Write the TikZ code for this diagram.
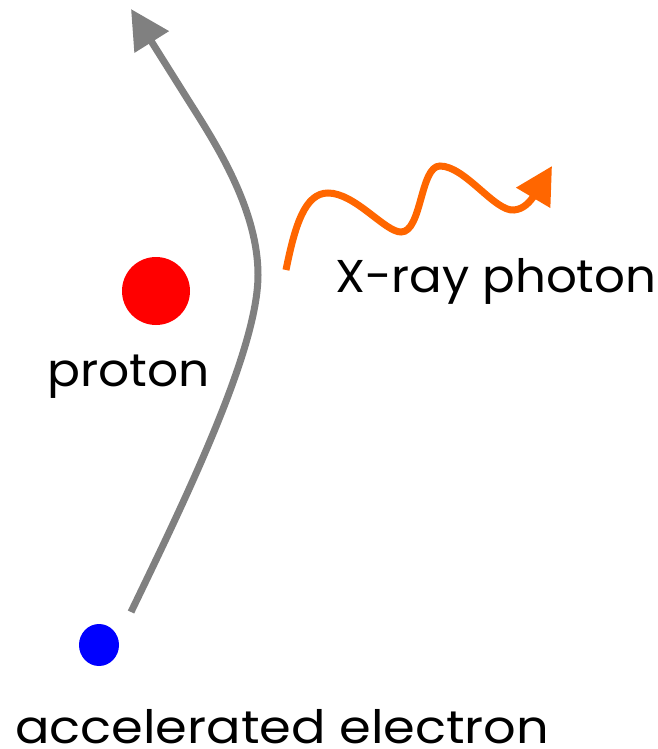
\documentclass[tikz,border=0pt]{standalone}
\usepackage{fontspec}
\setmainfont{Poppins}
\usetikzlibrary{arrows.meta,shapes.geometric}
\definecolor{pathgray}{HTML}{808080}
\definecolor{photonorange}{HTML}{FF6600}
\tikzset{
  lbl/.style={anchor=base west, inner sep=0pt, font=\fontsize{46}{50}\selectfont},
  track/.style={draw=pathgray, line width=7pt, -{Triangle[length=39pt,width=39pt]}},
  wave/.style={draw=photonorange, line width=7pt, -{Triangle[length=37pt,width=38pt]}},
}
\begin{document}
\begin{tikzpicture}[x=1pt,y=-1pt]
\useasboundingbox (0,0) rectangle (658,749);
\node[circle, fill=red, minimum size=68pt, inner sep=0pt] (proton) at (156,291) {};
\node[ellipse, fill=blue, minimum width=40pt, minimum height=42pt, inner sep=0pt] (electron) at (99,645) {};
\coordinate (start) at (131,612);
\coordinate (bend) at (258,275);
\coordinate (mid) at (185,95);
\coordinate (tip) at (131,9);
\draw[track] (start) .. controls (185,500) and (258,350) .. (bend)
  .. controls (258,205) and (210,135) .. (mid) -- (tip);
\coordinate (wstart) at (286,270);
\coordinate (wtip) at (552,166);
\draw[wave] (wstart) .. controls (295,225) and (305,193) .. (328,193)
  .. controls (355,193) and (385,232) .. (401,232)
  .. controls (422,232) and (420,166) .. (440,166)
  .. controls (465,166) and (495,212) .. (514,210)
  .. controls (524,209) and (530,202) .. (536,193) -- (wtip);
\node[lbl] (lproton) at (47,386) {\addfontfeature{FakeStretch=1.06}proton};
\node[lbl] (lphoton) at (335,292) {\addfontfeature{FakeStretch=1.05}X-ray photon};
\node[lbl] (lelectron) at (15,743) {\addfontfeature{FakeStretch=1.11}accelerated electron};
\end{tikzpicture}
\end{document}
